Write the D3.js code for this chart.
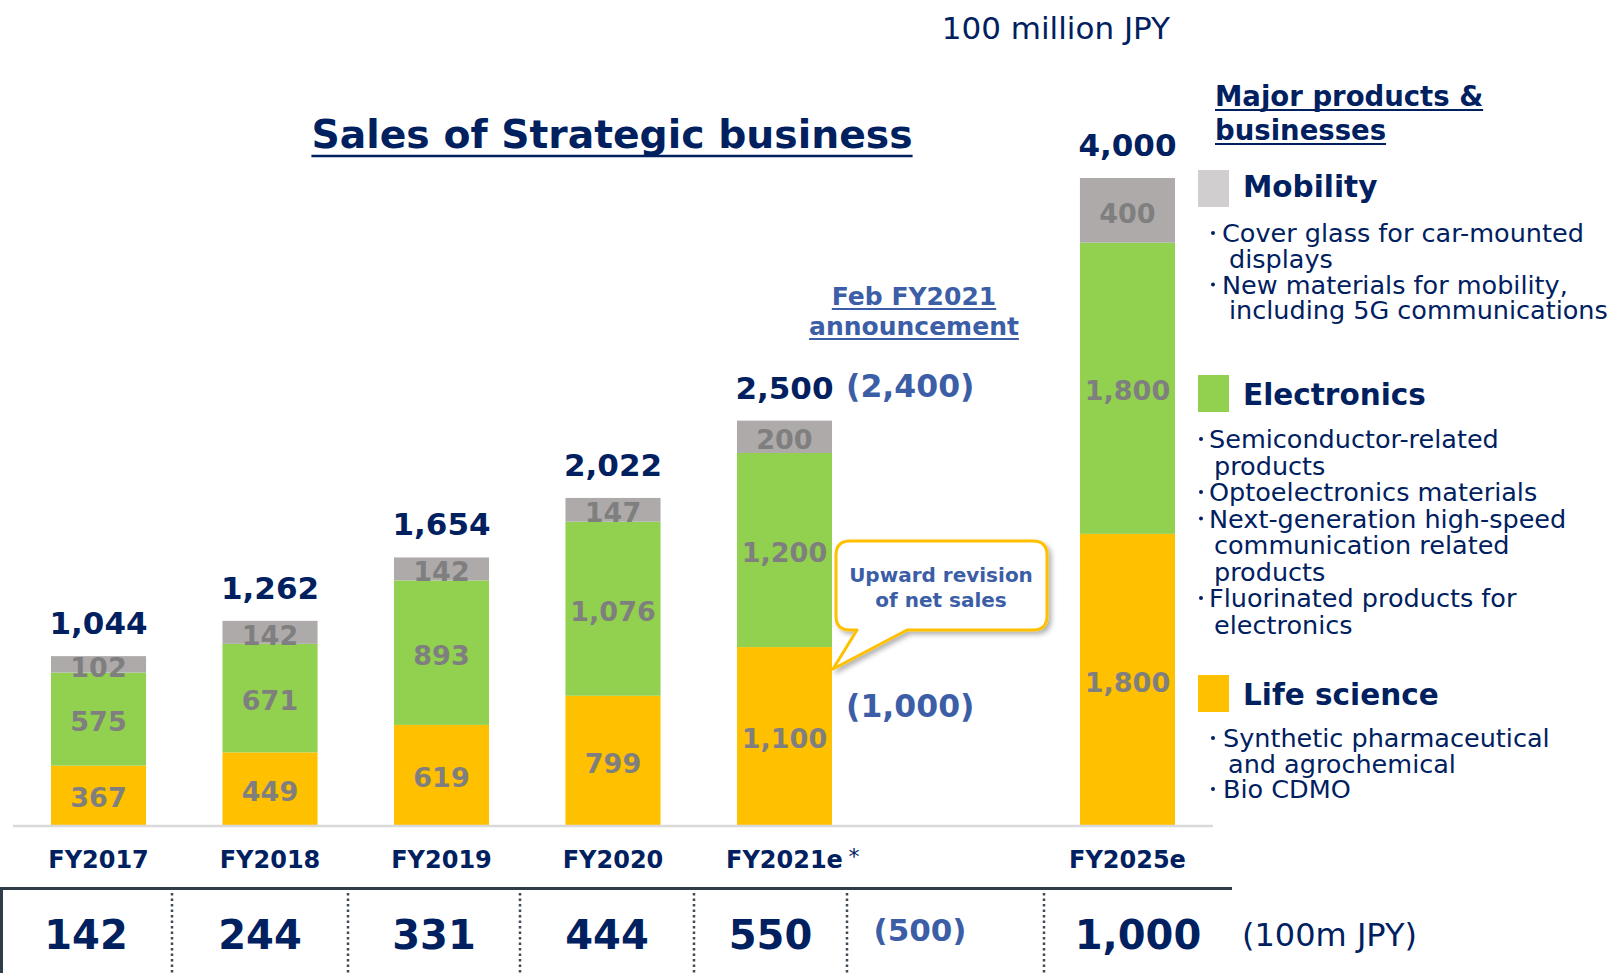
<!DOCTYPE html>
<html>
<head>
<meta charset="utf-8">
<script src="https://cdn.jsdelivr.net/npm/d3@7"></script>
<style>
body { margin: 0; background: #fff; }
svg text { font-family: Verdana, "DejaVu Sans", sans-serif; }
</style>
</head>
<body>
<div id="graph"></div>
<script>
// values in 100 million JPY
const categories = ['FY2017', 'FY2018', 'FY2019', 'FY2020', 'FY2021e', 'FY2025e']
const lifeScience = [367, 449, 619, 799, 1100, 1800]
const electronics = [575, 671, 893, 1076, 1200, 1800]
const mobility = [102, 142, 142, 147, 200, 400]
const totals = [1044, 1262, 1654, 2022, 2500, 4000]
const operatingValues = ['142', '244', '331', '444', '550', '1,000']

// Feb FY2021 announcement (previous forecast for FY2021e)
const prevTotal = '(2,400)'
const prevLifeScience = '(1,000)'
const prevOperating = '(500)'

const legendItems = [
    { name: 'Mobility', color: '#d0cece', bullets: [['Cover glass for car-mounted', 'displays'], ['New materials for mobility,', 'including 5G communications']] },
    { name: 'Electronics', color: '#92d050', bullets: [['Semiconductor-related', 'products'], ['Optoelectronics materials'], ['Next-generation high-speed', 'communication related', 'products'], ['Fluorinated products for', 'electronics']] },
    { name: 'Life science', color: '#ffc000', bullets: [['Synthetic pharmaceutical', 'and agrochemical'], ['Bio CDMO']] }
]

const width = 1612
const height = 973
const navy = '#002060'
const blue = '#3c5ea6'
const segColors = { lifeScience: '#ffc000', electronics: '#92d050', mobility: '#aeaaaa' }

const svg = d3.select('#graph')
    .append('svg')
    .attr('width', width)
    .attr('height', height)

const defs = svg.append('defs')
defs.append('filter').attr('id', 'shadow').attr('x', '-20%').attr('y', '-20%').attr('width', '150%').attr('height', '150%')
    .append('feDropShadow')
    .attr('dx', 3).attr('dy', 3).attr('stdDeviation', 2.5)
    .attr('flood-color', '#000').attr('flood-opacity', 0.3)

// slot list with an empty slot before FY2025e
const slots = [...categories.slice(0, 5), 'gap', categories[5]]
const xScale = d3.scaleBand().domain(slots).range([51, 1175]).paddingInner(0.4457).paddingOuter(0)
const yScale = d3.scaleLinear().domain([0, 4000]).range([825, 178])
const bw = xScale.bandwidth()
const cx = c => xScale(c) + bw / 2

const rows = categories.map((c, i) => ({
    cat: c, lifeScience: lifeScience[i], electronics: electronics[i], mobility: mobility[i]
}))
const series = d3.stack().keys(['lifeScience', 'electronics', 'mobility'])(rows)

const layers = svg.append('g').selectAll('g')
    .data(series)
    .enter()
    .append('g')
    .attr('fill', d => segColors[d.key])

layers.selectAll('rect')
    .data(d => d)
    .enter()
    .append('rect')
    .attr('x', d => xScale(d.data.cat))
    .attr('y', d => yScale(d[1]))
    .attr('width', bw)
    .attr('height', d => yScale(d[0]) - yScale(d[1]))

// segment labels
svg.append('g').selectAll('g')
    .data(series)
    .enter()
    .append('g')
    .selectAll('text')
    .data(d => d.map(p => ({ p, key: d.key })))
    .enter()
    .append('text')
    .attr('x', d => cx(d.p.data.cat))
    .attr('y', d => (yScale(d.p[0]) + yScale(d.p[1])) / 2)
    .attr('dy', '0.45em')
    .attr('text-anchor', 'middle')
    .attr('font-size', 27)
    .attr('font-weight', 'bold')
    .attr('fill', '#7f7f7f')
    .text(d => d3.format(',')(d.p.data[d.key]))

// totals
svg.append('g').selectAll('text')
    .data(categories)
    .enter()
    .append('text')
    .attr('x', cx)
    .attr('y', (c, i) => yScale(totals[i]) - 22)
    .attr('text-anchor', 'middle')
    .attr('font-size', 31)
    .attr('font-weight', 'bold')
    .attr('fill', navy)
    .text((c, i) => d3.format(',')(totals[i]))

// baseline
svg.append('line')
    .attr('x1', 13).attr('x2', 1213)
    .attr('y1', yScale(0) + 1).attr('y2', yScale(0) + 1)
    .attr('stroke', '#d9d9d9').attr('stroke-width', 2.5)

// category labels
svg.append('g').selectAll('text')
    .data(categories)
    .enter()
    .append('text')
    .attr('x', cx)
    .attr('y', 868)
    .attr('text-anchor', 'middle')
    .attr('font-size', 24)
    .attr('font-weight', 'bold')
    .attr('fill', navy)
    .text(d => d)
svg.append('text')
    .attr('x', cx('FY2021e') + 64).attr('y', 864)
    .attr('font-size', 22).attr('fill', navy)
    .text('*')

// previous forecast annotations
const fx = xScale('FY2021e') + bw + 14
svg.append('text')
    .attr('x', fx).attr('y', yScale(2500) - 24)
    .attr('font-size', 31.5).attr('font-weight', 'bold').attr('fill', blue)
    .text(prevTotal)
svg.append('text')
    .attr('x', fx).attr('y', 717)
    .attr('font-size', 31.5).attr('font-weight', 'bold').attr('fill', blue)
    .text(prevLifeScience)

const underlined = (g, x, y, txt, size, weight, color, anchor, gap, thick) => {
    const t = g.append('text')
        .attr('x', x).attr('y', y)
        .attr('text-anchor', anchor)
        .attr('font-size', size).attr('font-weight', weight).attr('fill', color)
        .text(txt)
    const w = t.node().getComputedTextLength()
    const x0 = anchor === 'middle' ? x - w / 2 : x
    g.append('line')
        .attr('x1', x0).attr('x2', x0 + w)
        .attr('y1', y + gap).attr('y2', y + gap)
        .attr('stroke', color).attr('stroke-width', thick)
}

underlined(svg, 914, 305, 'Feb FY2021', 25, 'bold', blue, 'middle', 4, 2)
underlined(svg, 914, 335, 'announcement', 25, 'bold', blue, 'middle', 4, 2)

// callout
const bx0 = 836, by0 = 541, bx1 = 1047, by1 = 630, r = 14
const tipX = xScale('FY2021e') + bw + 1, tipY = 669
const calloutPath = `M${bx0 + r},${by0} H${bx1 - r} Q${bx1},${by0} ${bx1},${by0 + r} V${by1 - r} Q${bx1},${by1} ${bx1 - r},${by1} H907 L${tipX},${tipY} L857,${by1} H${bx0 + r} Q${bx0},${by1} ${bx0},${by1 - r} V${by0 + r} Q${bx0},${by0} ${bx0 + r},${by0} Z`
svg.append('path')
    .attr('d', calloutPath)
    .attr('fill', '#fff')
    .attr('stroke', '#ffc000')
    .attr('stroke-width', 3)
    .attr('stroke-linejoin', 'round')
    .attr('filter', 'url(#shadow)')
svg.append('g').selectAll('text')
    .data(['Upward revision', 'of net sales'])
    .enter()
    .append('text')
    .attr('x', 941)
    .attr('y', (d, i) => 582 + i * 25)
    .attr('text-anchor', 'middle')
    .attr('font-size', 20).attr('font-weight', 'bold').attr('fill', blue)
    .text(d => d)

// title and unit
underlined(svg, 612, 148, 'Sales of Strategic business', 39.3, 'bold', navy, 'middle', 8, 2.5)
svg.append('text')
    .attr('x', 1170).attr('y', 39)
    .attr('text-anchor', 'end')
    .attr('font-size', 31).attr('fill', navy)
    .text('100 million JPY')

// legend
underlined(svg, 1215, 106, 'Major products &', 27.5, 'bold', navy, 'start', 4, 2)
underlined(svg, 1215, 140, 'businesses', 27.5, 'bold', navy, 'start', 4, 2)

const legendPos = [
    { top: 170, titleY: 197, firstY: 242, step: 25.8, dot: 1213, tx: 1222, cont: 1229 },
    { top: 375, titleY: 405, firstY: 448, step: 26.5, dot: 1201, tx: 1209, cont: 1214 },
    { top: 675, titleY: 705, firstY: 747, step: 25.5, dot: 1213, tx: 1223, cont: 1228 }
]

legendItems.forEach((item, k) => {
    const p = legendPos[k]
    const g = svg.append('g')
    g.append('rect')
        .attr('x', 1198).attr('y', p.top)
        .attr('width', 31).attr('height', 37)
        .attr('fill', item.color)
    g.append('text')
        .attr('x', 1243).attr('y', p.titleY)
        .attr('font-size', 29.5).attr('font-weight', 'bold').attr('fill', navy)
        .text(item.name)
    let line = 0
    item.bullets.forEach(b => {
        b.forEach((txt, j) => {
            const y = p.firstY + line * p.step
            if (j === 0) {
                g.append('circle')
                    .attr('cx', p.dot).attr('cy', y - 9)
                    .attr('r', 2).attr('fill', navy)
            }
            g.append('text')
                .attr('x', j === 0 ? p.tx : p.cont).attr('y', y)
                .attr('font-size', 25.5).attr('fill', navy)
                .text(txt)
            line++
        })
    })
})

// operating values row
const tableSeps = [172, 348, 520, 694, 847, 1044]
const colEdges = [0, 172, 348, 520, 694, 847, 1044, 1232]
const colCenters = [0, 1, 2, 3, 4, 6].map(i => (colEdges[i] + colEdges[i + 1]) / 2)

svg.append('line')
    .attr('x1', 0).attr('x2', 1232)
    .attr('y1', 888.5).attr('y2', 888.5)
    .attr('stroke', '#2e3d49').attr('stroke-width', 3)
svg.append('line')
    .attr('x1', 1.5).attr('x2', 1.5)
    .attr('y1', 888).attr('y2', height)
    .attr('stroke', '#2e3d49').attr('stroke-width', 3)
svg.append('g').selectAll('line')
    .data(tableSeps)
    .enter()
    .append('line')
    .attr('x1', d => d).attr('x2', d => d)
    .attr('y1', 893).attr('y2', height)
    .attr('stroke', '#404a55').attr('stroke-width', 2.5)
    .attr('stroke-dasharray', '2.5,3')

svg.append('g').selectAll('text')
    .data(operatingValues)
    .enter()
    .append('text')
    .attr('x', (d, i) => colCenters[i])
    .attr('y', 949)
    .attr('text-anchor', 'middle')
    .attr('font-size', 40).attr('font-weight', 'bold').attr('fill', navy)
    .text(d => d)

svg.append('text')
    .attr('x', 920).attr('y', 941)
    .attr('text-anchor', 'middle')
    .attr('font-size', 31).attr('font-weight', 'bold').attr('fill', blue)
    .text(prevOperating)
svg.append('text')
    .attr('x', 1242).attr('y', 946)
    .attr('font-size', 32).attr('fill', navy)
    .text('(100m JPY)')
</script>
</body>
</html>
